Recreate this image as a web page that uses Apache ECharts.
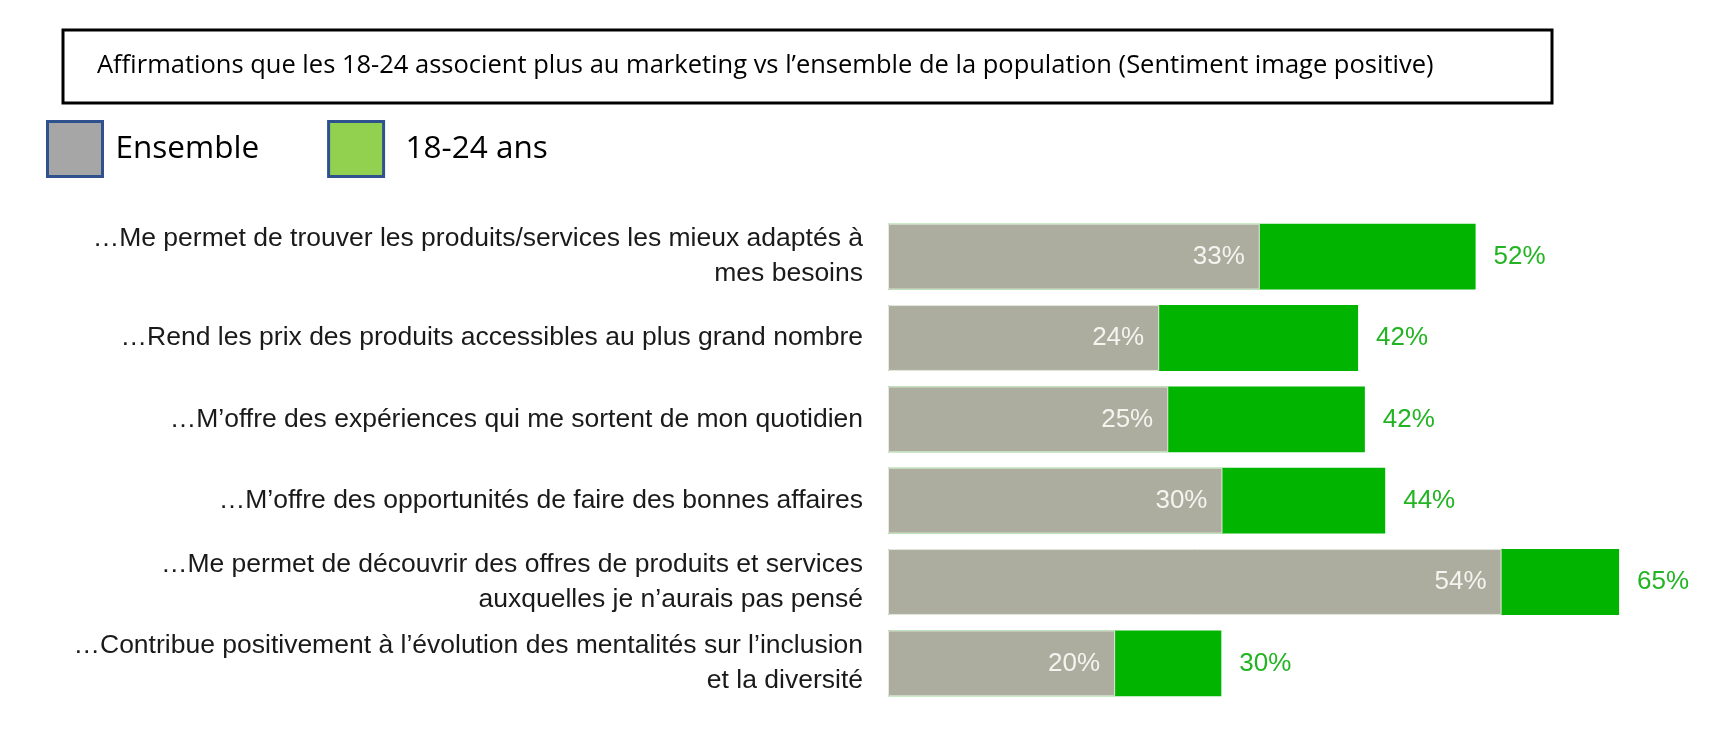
<!DOCTYPE html>
<html>
<head>
<meta charset="utf-8">
<script src="https://cdn.jsdelivr.net/npm/echarts@6/dist/echarts.min.js"></script>
<style>
html,body{margin:0;padding:0;background:#fff;}
#chart{width:1730px;height:750px;}
</style>
</head>
<body>
<div id="chart"></div>
<script>
const titleText = "Affirmations que les 18-24 associent plus au marketing vs l’ensemble de la population (Sentiment image positive)";
const categories = [
  "…Me permet de trouver les produits/services les mieux adaptés à\nmes besoins",
  "…Rend les prix des produits accessibles au plus grand nombre",
  "…M’offre des expériences qui me sortent de mon quotidien",
  "…M’offre des opportunités de faire des bonnes affaires",
  "…Me permet de découvrir des offres de produits et services\nauxquelles je n’aurais pas pensé",
  "…Contribue positivement à l’évolution des mentalités sur l’inclusion\net la diversité"
];
// bar lengths; labels show the rounded percentages
const ensembleValues = [32.9, 24.0, 24.8, 29.6, 54.3, 20.1];
const youngValues = [52.0, 41.6, 42.2, 44.0, 64.7, 29.5];
const seriesNames = ["Ensemble", "18-24 ans"];

const pct = p => Math.round(p.value) + '%';
const chart = echarts.init(document.getElementById('chart'));
chart.setOption({
  backgroundColor: '#ffffff',
  animation: false,
  title: {
    text: titleText,
    left: 92, top: 48,
    textStyle: {fontFamily: 'Open Sans', fontSize: 25.5, fontWeight: 'normal', color: '#000'}
  },
  graphic: [{
    type: 'rect',
    shape: {x: 63, y: 30, width: 1489, height: 73},
    style: {fill: 'none', stroke: '#000', lineWidth: 3},
    z: 10
  }],
  legend: {
    left: 41, top: 115,
    orient: 'horizontal',
    itemWidth: 55, itemHeight: 55,
    itemGap: 68,
    icon: 'rect',
    textStyle: {fontFamily: 'Open Sans', fontSize: 31.5, color: '#000', padding: [0, 0, 0, 8]},
    data: [
      {name: seriesNames[0], itemStyle: {color: '#A6A6A6', borderColor: '#2F528F', borderWidth: 3}},
      {name: seriesNames[1], itemStyle: {color: '#92D050', borderColor: '#2F528F', borderWidth: 3},
        textStyle: {padding: [0, 0, 0, 17]}}
    ]
  },
  grid: {left: 888, top: 216, height: 488, width: 791},
  xAxis: {type: 'value', min: 0, max: 70, show: false},
  yAxis: {
    type: 'category', data: categories, inverse: true,
    axisLine: {show: false}, axisTick: {show: false},
    axisLabel: {
      margin: 25, fontFamily: 'Liberation Sans', fontSize: 26.5, color: '#1a1a1a',
      lineHeight: 35, align: 'right'
    }
  },
  series: [
    {
      name: seriesNames[1], type: 'bar', data: youngValues,
      barCategoryGap: '19%', barGap: '-100%',
      itemStyle: {color: '#00B400'},
      label: {show: true, position: 'right', distance: 18, formatter: pct,
        fontFamily: 'Liberation Sans', fontSize: 26, color: '#22B422'}
    },
    {
      name: seriesNames[0], type: 'bar', data: ensembleValues,
      barCategoryGap: '19%', barGap: '-100%',
      itemStyle: {color: '#ADAD9F', borderColor: '#E8E8E0', borderWidth: 1},
      label: {show: true, position: 'insideRight', distance: 15, formatter: pct,
        fontFamily: 'Liberation Sans', fontSize: 26, color: '#F4F4F0'}
    }
  ]
});
</script>
</body>
</html>
